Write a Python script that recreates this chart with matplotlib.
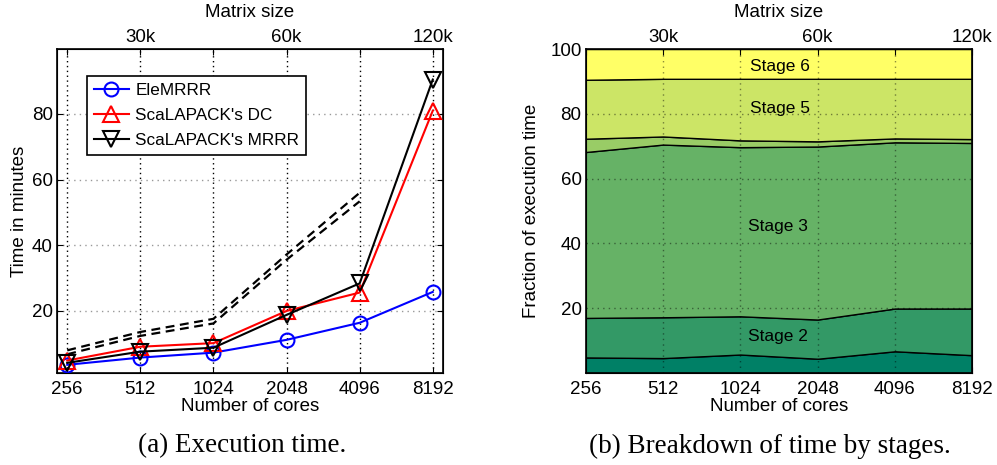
import matplotlib
matplotlib.use("Agg")
import matplotlib.pyplot as plt
import numpy as np

plt.rcParams['font.family'] = ['Liberation Sans', 'DejaVu Sans']

# ---- data ----
cores = ["256", "512", "1024", "2048", "4096", "8192"]
matrix_labels = ["30k", "60k", "120k"]

elemrrr = [3.6, 5.8, 7.3, 11.2, 16.4, 25.8]
scalapack_dc = [4.9, 9.1, 10.2, 20.0, 25.6, 81.0]
scalapack_mrrr = [4.2, 7.6, 8.8, 18.8, 28.4, 90.5]
dashed_upper = [8.0, 13.6, 17.6, 37.2, 56.0]
dashed_lower = [6.8, 12.4, 16.2, 35.6, 53.4]

stage_names = ["Stage 1", "Stage 2", "Stage 3", "Stage 4", "Stage 5", "Stage 6"]
# cumulative boundaries (top of each stage)
bound1 = [4.8, 4.6, 5.7, 4.4, 6.7, 5.5]
bound2 = [17.0, 17.2, 17.5, 16.5, 19.9, 19.9]
bound3 = [68.2, 70.5, 69.7, 69.9, 71.2, 71.0]
bound4 = [72.3, 73.0, 71.8, 71.5, 72.4, 72.2]
bound5 = [90.5, 90.8, 90.8, 90.8, 90.8, 90.8]
bound6 = [100, 100, 100, 100, 100, 100]

stage_colors = ["#008066", "#339966", "#66B266", "#99CC66", "#CCE566", "#FFFF66"]

FS = 13.5
fig = plt.figure(figsize=(9.97, 4.65), dpi=100)

x = np.arange(len(cores))

# ---------------- left panel ----------------
ax1 = fig.add_axes([57/997, 92/465, 386/997, 324/465])
ax1.plot(x, elemrrr, '-o', color='blue', mfc='none', mec='blue', ms=10, mew=1.5, lw=1.5, label="EleMRRR", zorder=5)
ax1.plot(x, scalapack_dc, '-^', color='red', mfc='none', mec='red', ms=11, mew=1.5, lw=1.5, label="ScaLAPACK's DC", zorder=5)
ax1.plot(x, scalapack_mrrr, '-v', color='black', mfc='none', mec='black', ms=11, mew=1.5, lw=1.5, label="ScaLAPACK's MRRR", zorder=5)
ax1.plot(x[:5], dashed_upper, '--', color='black', lw=1.6, dashes=(4, 2.5), zorder=4)
ax1.plot(x[:5], dashed_lower, '--', color='black', lw=1.6, dashes=(4, 2.5), zorder=4)

ax1.set_xlim(-0.14, 5.14)
ax1.set_ylim(1.1, 99.8)
ax1.set_xticks(x)
ax1.set_xticklabels(cores)
ax1.set_yticks([20, 40, 60, 80])
ax1.tick_params(axis='both', direction='in', length=4, labelsize=FS, top=False, right=True)
ax1.tick_params(axis='x', pad=6)
ax1.tick_params(axis='y', pad=3)
for xv in x:
    ax1.axvline(xv, color='black', ls=(0, (1, 2.5)), lw=1.0, zorder=1)
for yv in [20, 40, 60, 80]:
    ax1.axhline(yv, color='#999999', ls=(0, (1, 3)), lw=1.0, zorder=1)
ax1.set_xlabel("Number of cores", fontsize=FS, labelpad=0)
ax1.set_ylabel("Time in minutes", fontsize=FS, labelpad=3)
for s in ax1.spines.values():
    s.set_linewidth(1.2)

leg = ax1.legend(loc='upper left', bbox_to_anchor=(0.077, 0.917), fontsize=12.3, frameon=True,
                 fancybox=False, edgecolor='black', framealpha=1, borderpad=0.4,
                 labelspacing=0.6, handlelength=2.1, handletextpad=0.35, borderaxespad=0)
leg.get_frame().set_linewidth(1.2)

top1 = ax1.twiny()
top1.set_xlim(ax1.get_xlim())
top1.set_xticks(x)
top1.set_xticklabels(["", matrix_labels[0], "", matrix_labels[1], "", matrix_labels[2]])
top1.tick_params(axis='x', direction='in', length=4, labelsize=FS, pad=2)
top1.set_xlabel("Matrix size", fontsize=FS, labelpad=9)

# ---------------- right panel ----------------
ax2 = fig.add_axes([585.7/997, 92/465, 386.6/997, 324/465])
bounds = [bound1, bound2, bound3, bound4, bound5, bound6]
layers = [bound1] + [list(np.array(bounds[i]) - np.array(bounds[i-1])) for i in range(1, 6)]
polys = ax2.stackplot(x, *layers, colors=stage_colors, edgecolor='black', linewidth=1.0, zorder=2)
ax2.set_xlim(0, 5)
ax2.set_ylim(0, 100)
ax2.set_xticks(x)
ax2.set_xticklabels(cores)
ax2.set_yticks([20, 40, 60, 80, 100])
ax2.tick_params(axis='both', direction='in', length=4, labelsize=FS, top=False, right=True)
ax2.tick_params(axis='x', pad=6)
ax2.tick_params(axis='y', pad=3)
for xv in x[1:5]:
    ax2.axvline(xv, color='black', alpha=0.45, ls=(0, (1, 3)), lw=1.0, zorder=3)
for yv in [20, 40, 60, 80]:
    ax2.axhline(yv, color='black', alpha=0.45, ls=(0, (1, 3)), lw=1.0, zorder=3)
ax2.set_xlabel("Number of cores", fontsize=FS, labelpad=0)
ax2.set_ylabel("Fraction of execution time", fontsize=FS, labelpad=7)
for s in ax2.spines.values():
    s.set_linewidth(1.2)
    s.set_zorder(5)

label_pos = [(2.51, 94.5, stage_names[5]), (2.51, 81.6, stage_names[4]),
             (2.49, 45.2, stage_names[2]), (2.48, 11.2, stage_names[1])]
for lx, ly, t in label_pos:
    ax2.text(lx, ly, t, ha='center', va='center', fontsize=12.5, zorder=6)

top2 = ax2.twiny()
top2.set_xlim(ax2.get_xlim())
top2.set_xticks(x)
top2.set_xticklabels(["", matrix_labels[0], "", matrix_labels[1], "", matrix_labels[2]])
top2.tick_params(axis='x', direction='in', length=4, labelsize=FS, pad=2)
top2.set_xlabel("Matrix size", fontsize=FS, labelpad=9)

# captions
fig.text(241.7/997, 1 - 446/465, "(a) Execution time.", ha='center', va='center',
         fontsize=19.5, family=['Liberation Serif', 'DejaVu Serif'])
fig.text(769.7/997, 1 - 446/465, "(b) Breakdown of time by stages.", ha='center', va='center',
         fontsize=19.5, family=['Liberation Serif', 'DejaVu Serif'])

fig.savefig("out.png", dpi=100)
